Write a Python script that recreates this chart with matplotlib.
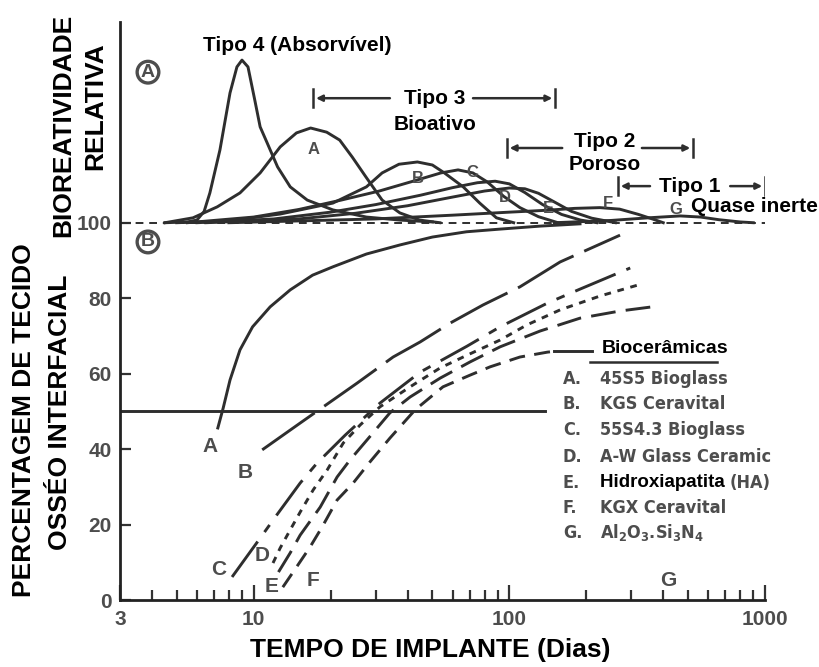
import matplotlib
matplotlib.use("Agg")
import matplotlib.pyplot as plt
from matplotlib import ticker

plt.rcParams['font.family'] = ['Liberation Sans', 'DejaVu Sans']
plt.rcParams['font.weight'] = 'bold'
plt.rcParams['mathtext.default'] = 'regular'

INK = '#2e2e2e'
GREY = '#4d4d4d'
NARROW = dict(family='DejaVu Sans', stretch='condensed', weight='bold')

# --- (A) relative bioreactivity humps, baseline = 100 ---
t4_x = [4.5, 5.5, 6.0, 6.4, 6.74, 7.38, 8.08, 8.6, 9.0, 9.5, 10.1, 10.6, 11.3, 12.4, 13.9, 16.2, 20.4, 27.6, 37.3, 50]
t4_y = [100, 100.2, 100.7, 103, 107.9, 119.3, 134.4, 141.3, 143.1, 141.3, 132.5, 125.4, 121.1, 114.8, 109.5, 106.0, 103.4, 101.5, 100.7, 100.2]

topA_x = [4.5, 5.79, 7.2, 8.84, 10.6, 12.7, 14.7, 16.7, 19.3, 21.7, 24.3, 27.5, 31.8, 37.3, 44.6, 53.5]
topA_y = [100, 101.3, 104.2, 107.9, 113.2, 120.1, 123.8, 125.1, 124.0, 121.9, 117.4, 112.1, 106.0, 102.6, 100.7, 100]

topB_x = [5, 8, 12.7, 20.4, 27.6, 31.8, 37, 43.7, 50, 55.7, 66, 76.6, 89, 104]
topB_y = [100, 100.5, 102.3, 105.2, 109.5, 113.2, 115.5, 116.1, 115.3, 113.2, 109.5, 105.2, 101.3, 100]

topC_x = [5.5, 10, 15, 22, 31, 42, 54, 63, 72, 82, 95, 110, 130, 155]
topC_y = [100, 101.5, 103.5, 106, 108.4, 111, 113.2, 114, 113.2, 110.8, 107, 104, 101.6, 100]

topD_x = [6, 12, 20, 30, 45, 60, 75, 88, 100, 115, 135, 160, 190, 220]
topD_y = [100, 101, 102.8, 104.8, 107.3, 109.3, 110.6, 111, 110.3, 108, 104.8, 102.2, 100.7, 100]

topE_x = [6.5, 15, 25, 40, 60, 80, 100, 115, 130, 150, 175, 210, 260]
topE_y = [100, 101, 102.5, 104.5, 106.8, 108.4, 109.2, 109, 107.8, 105.5, 103, 101.2, 100]

topF_x = [8, 30, 60, 100, 140, 180, 226, 270, 320, 370, 400]
topF_y = [100, 101, 102, 102.8, 103.3, 103.8, 104, 103.6, 102.2, 100.8, 100]

topG_x = [150, 250, 350, 466, 560, 660, 800, 900]
topG_y = [100, 100.6, 101.3, 101.8, 101.5, 100.8, 100.2, 100]

# --- (B) percentage of interfacial bone tissue ---
boneA_x = [7.24, 7.6, 8.08, 8.84, 9.9, 11.6, 13.9, 17.0, 20.4, 27.6, 37.3, 50, 68, 91.7, 132, 189]
boneA_y = [45.6, 50.9, 58.3, 66.3, 72.4, 77.7, 82.2, 86.1, 88.3, 91.7, 94.1, 96.2, 97.6, 98.3, 99.1, 99.7]

boneB_x = [10.8, 15.2, 25.4, 35.1, 44.8, 58.7, 78.9, 110, 158, 271]
boneB_y = [39.8, 46.9, 57.5, 64.4, 68.4, 73.4, 78.2, 83.0, 89.6, 96.7]

boneC_x = [8.23, 10.6, 12.3, 15.2, 17.7, 22.8, 31.2, 44.8, 68.4, 92.0, 141, 189, 297]
boneC_y = [6.1, 16.4, 22.5, 31.0, 36.3, 43.7, 52.2, 60.4, 67.3, 72.4, 78.7, 82.4, 88.0]

boneD_x = [11.9, 12.7, 13.9, 15.2, 17.1, 19.4, 22.4, 26.1, 31.2, 40.9, 53.6, 68.4, 92.0, 117, 158, 227, 319]
boneD_y = [9.8, 13.8, 18.6, 23.3, 29.2, 34.5, 41.6, 46.4, 51.2, 56.5, 61.5, 64.9, 68.9, 72.9, 76.9, 80.6, 83.5]

boneE_x = [12.5, 13.9, 15.2, 18.2, 21.2, 23.8, 29.3, 34.1, 40.9, 53.6, 70.2, 92.0, 132, 189, 271, 362]
boneE_y = [7.4, 12.5, 17.2, 24.6, 32.6, 37.1, 44.3, 49.6, 53.8, 58.8, 63.1, 67.1, 71.3, 74.7, 76.6, 77.7]

boneF_x = [13.0, 14.8, 16.6, 18.5, 21.2, 24.5, 28.5, 34.1, 42.8, 55.0, 70.2, 84.1, 110, 141, 150]
boneF_y = [3.4, 9.0, 14.0, 19.3, 26.5, 31.0, 36.6, 42.9, 50.4, 56.5, 59.6, 61.8, 64.4, 65.7, 65.9]
boneF_tail_x = [150, 211]
boneF_tail_y = [65.9, 65.9]

ref50_x = [3, 138]
ref50_y = [50, 50]

legend_keys = ['A.', 'B.', 'C.', 'D.', 'E.', 'F.', 'G.']
legend_names = ['45S5 Bioglass', 'KGS Ceravital', '55S4.3 Bioglass', 'A-W Glass Ceramic',
                'Hidroxiapatita', 'KGX Ceravital', r'Al$_2$O$_3$.Si$_3$N$_4$']

fig = plt.figure(figsize=(8.2, 6.67), dpi=100)
W, H = 820.0, 667.0
ax = fig.add_axes([120 / W, 1 - 600 / H, 645 / W, 578 / H])
ax.set_xscale('log')
ax.set_xlim(3, 1000)
ax.set_ylim(0, 153.2)

for s in ['top', 'right']:
    ax.spines[s].set_visible(False)
for s in ['left', 'bottom']:
    ax.spines[s].set_linewidth(2.0)
    ax.spines[s].set_color('#222222')

ax.xaxis.set_major_locator(ticker.FixedLocator([3, 10, 100, 1000]))
ax.xaxis.set_major_formatter(ticker.FixedFormatter(['3', '10', '100', '1000']))
ax.xaxis.set_minor_locator(ticker.LogLocator(base=10, subs=(2, 3, 4, 5, 6, 7, 8, 9), numticks=20))
ax.xaxis.set_minor_formatter(ticker.NullFormatter())
ax.yaxis.set_major_locator(ticker.FixedLocator([0, 20, 40, 60, 80, 100]))
ax.tick_params(axis='x', which='major', direction='in', length=11, width=1.6, color='#333',
               labelsize=15, labelcolor=GREY, pad=7)
ax.tick_params(axis='x', which='minor', direction='in', length=7, width=1.6, color='#333')
ax.tick_params(axis='y', which='major', direction='in', length=8, width=1.6, color='#333',
               labelsize=15, labelcolor=GREY, pad=6)
ax.yaxis.set_minor_locator(ticker.NullLocator())

lw = 2.1
# panel A
ax.plot([3.05, 1000], [100, 100], color=INK, lw=1.4, ls=(0, (4, 3)))
for xs, ys in [(t4_x, t4_y), (topA_x, topA_y), (topB_x, topB_y), (topC_x, topC_y),
               (topD_x, topD_y), (topE_x, topE_y), (topF_x, topF_y), (topG_x, topG_y)]:
    ax.plot(xs, ys, color=INK, lw=lw, solid_joinstyle='round')

# panel B
ax.plot(ref50_x, ref50_y, color=INK, lw=lw)
ax.plot(boneA_x, boneA_y, color=INK, lw=lw)
ax.plot(boneB_x, boneB_y, color=INK, lw=lw, ls=(0, (22, 4)))
ax.plot(boneC_x, boneC_y, color=INK, lw=lw, ls=(0, (15, 4, 3, 4)))
ax.plot(boneD_x, boneD_y, color=INK, lw=lw, ls=(0, (2.3, 2.3)))
ax.plot(boneE_x, boneE_y, color=INK, lw=lw, ls=(0, (8.5, 3.5)))
ax.plot(boneF_x, boneF_y, color=INK, lw=lw, ls=(0, (5.5, 3.2)))
ax.plot(boneF_tail_x, boneF_tail_y, color=INK, lw=lw)

# curve letters, panel A
for lab, x, y in [('A', 17.1, 119.3), ('B', 43.8, 111.8), ('C', 71.5, 113.4), ('D', 96, 106.8),
                  ('E', 142, 103.9), ('F', 243, 105.2), ('G', 449, 103.4)]:
    ax.text(x, y, lab, ha='center', va='center', fontsize=12, color=GREY)
# curve letters, panel B
for lab, x, y in [('A', 6.74, 40.6), ('B', 9.25, 33.9), ('C', 7.32, 8.2), ('D', 10.8, 11.7),
                  ('E', 11.8, 3.7), ('F', 17.1, 5.3), ('G', 418, 5.3)]:
    ax.text(x, y, lab, ha='center', va='center', fontsize=15, color=GREY)

# panel markers
for lab, y in [('A', 139.9), ('B', 94.9)]:
    ax.text(3.86, y, lab, ha='center', va='center', fontsize=14, color=GREY,
            bbox=dict(boxstyle='circle,pad=0.12', fc='white', ec=GREY, lw=2.4))

# class brackets
def bracket(x0, x1, y, gl, gr):
    for xb in (x0, x1):
        ax.plot([xb, xb], [y - 2.4, y + 2.4], color=INK, lw=1.8)
    for xa, xb in ((gl, x0), (gr, x1)):
        ax.annotate('', xy=(xb, y), xytext=(xa, y),
                    arrowprops=dict(arrowstyle='-|>', color=INK, lw=1.8, mutation_scale=9,
                                    shrinkA=0, shrinkB=2))

bracket(17.1, 151, 133.0, 34.1, 72.1)
bracket(97.8, 523, 119.8, 161, 330)
bracket(266, 1000, 109.7, 355, 731)

ax.text(14.8, 147.1, 'Tipo 4 (Absorvível)', ha='center', va='center', fontsize=15)
ax.text(51, 133.0, 'Tipo 3', ha='center', va='center', fontsize=15)
ax.text(51, 125.9, 'Bioativo', ha='center', va='center', fontsize=15)
ax.text(237, 121.6, 'Tipo 2', ha='center', va='center', fontsize=15)
ax.text(237, 115.3, 'Poroso', ha='center', va='center', fontsize=15)
ax.text(510, 109.7, 'Tipo 1', ha='center', va='center', fontsize=15)
ax.text(1614, 104.2, 'Quase inerte', ha='right', va='center', fontsize=15, clip_on=False)

# material key
ax.text(229, 66.6, 'Biocerâmicas', ha='left', va='center', fontsize=14, color='black')
ax.plot([207, 650], [63.2, 63.2], color=INK, lw=1.8, clip_on=False)
key_y = [58.6, 52.0, 45.1, 38.0, 31.1, 24.4, 17.8]
for k, name, y in zip(legend_keys, legend_names, key_y):
    ax.text(162, y, k, ha='left', va='center', fontsize=13, color=GREY, **NARROW)
    if name == 'Hidroxiapatita':
        t = ax.text(226, y, name + ' ', ha='left', va='center', fontsize=13.5, color='black')
        fig.canvas.draw()
        ax.annotate('(HA)', xycoords=t, xy=(1, 0.5), va='center', ha='left', fontsize=13,
                    color=GREY, **NARROW)
    else:
        ax.text(226, y, name, ha='left', va='center', fontsize=13, color=GREY, **NARROW)

fig.text(430 / W, 1 - 650 / H, 'TEMPO DE IMPLANTE (Dias)', ha='center', va='center', fontsize=19)
fig.text(24 / W, 1 - 420 / H, 'PERCENTAGEM DE TECIDO', ha='center', va='center', fontsize=19, rotation=90)
fig.text(60 / W, 1 - 412 / H, 'OSSÉO INTERFACIAL', ha='center', va='center', fontsize=19, rotation=90)
fig.text(63 / W, 1 - 125 / H, 'BIOREATIVIDADE', ha='center', va='center', fontsize=19, rotation=90)
fig.text(95 / W, 1 - 106 / H, 'RELATIVA', ha='center', va='center', fontsize=19, rotation=90)

fig.savefig('out.png', dpi=100, facecolor='white')
